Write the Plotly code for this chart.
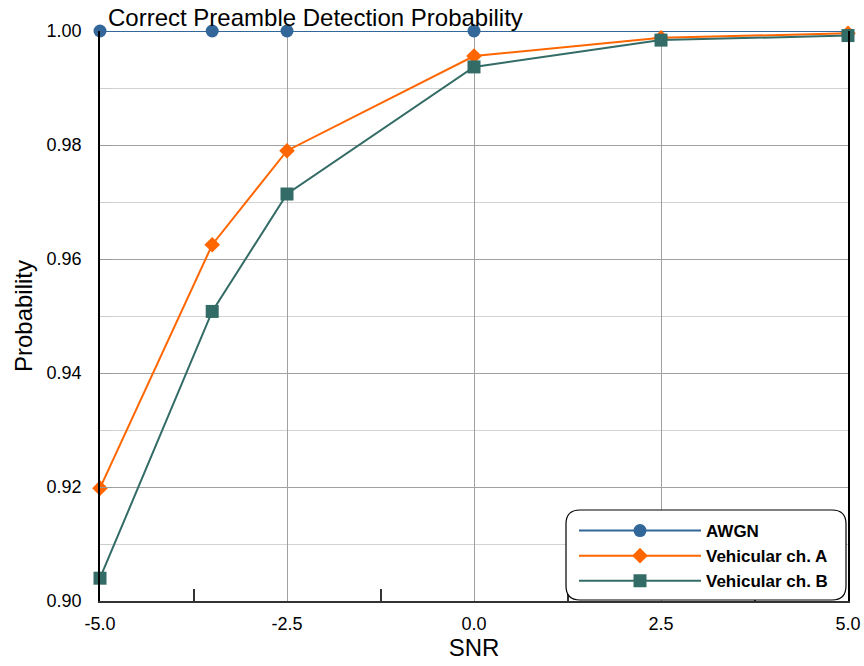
import plotly.graph_objects as go

snr = [-5.0, -3.5, -2.5, 0.0, 2.5, 5.0]
awgn = [1.0, 1.0, 1.0, 1.0, 1.0, 1.0]
veh_a = [0.9198, 0.9625, 0.9790, 0.9956, 0.9988, 0.9996]
veh_b = [0.9040, 0.9508, 0.9714, 0.9937, 0.9984, 0.9992]

x_ticks = [-5.0, -2.5, 0.0, 2.5, 5.0]
x_labels = ["-5.0", "-2.5", "0.0", "2.5", "5.0"]
y_ticks = [0.90, 0.92, 0.94, 0.96, 0.98, 1.00]
y_labels = ["0.90", "0.92", "0.94", "0.96", "0.98", "1.00"]

BLUE = "#336699"
ORANGE = "#FF6600"
GREEN = "#336B66"

W, H = 864, 666
ml, mr, mt, mb = 100, 16, 31, 65
pw, ph = W - ml - mr, H - mt - mb

def px(xp):
    return (xp - ml) / pw

def py(yp):
    return 1 - (yp - mt) / ph

fig = go.Figure()
# AWGN line (all points) and its visible markers (the last two are hidden under ch. B squares)
fig.add_trace(go.Scatter(x=snr, y=awgn, name="AWGN", mode="lines",
                         line=dict(color=BLUE, width=2), showlegend=False, cliponaxis=False))
fig.add_trace(go.Scatter(x=snr[:4], y=awgn[:4], name="AWGN", mode="markers",
                         marker=dict(symbol="circle", size=13, color=BLUE, opacity=1),
                         cliponaxis=False, showlegend=False))
fig.add_trace(go.Scatter(x=[None], y=[None], name="AWGN", mode="lines+markers",
                         line=dict(color=BLUE, width=2),
                         marker=dict(symbol="circle", size=13, color=BLUE)))
fig.add_trace(go.Scatter(x=snr, y=veh_a, name="Vehicular ch. A", mode="lines+markers",
                         line=dict(color=ORANGE, width=2),
                         marker=dict(symbol="diamond", size=12, color=ORANGE),
                         cliponaxis=False))
fig.add_trace(go.Scatter(x=snr, y=veh_b, name="Vehicular ch. B", mode="lines+markers",
                         line=dict(color=GREEN, width=2),
                         marker=dict(symbol="square", size=13, color=GREEN),
                         cliponaxis=False))

x0, x1, y0, y1 = 566, 846, 510, 600
r = 14
pts_path = (f"M {px(x0+r)},{py(y0)} L {px(x1-r)},{py(y0)} Q {px(x1)},{py(y0)} {px(x1)},{py(y0+r)} "
            f"L {px(x1)},{py(y1-r)} Q {px(x1)},{py(y1)} {px(x1-r)},{py(y1)} "
            f"L {px(x0+r)},{py(y1)} Q {px(x0)},{py(y1)} {px(x0)},{py(y1-r)} "
            f"L {px(x0)},{py(y0+r)} Q {px(x0)},{py(y0)} {px(x0+r)},{py(y0)} Z")

fig.add_shape(type="path", path=pts_path, xref="paper", yref="paper",
              line=dict(color="black", width=1.2), fillcolor="white", layer="above")

fig.update_layout(
    width=W, height=H,
    margin=dict(l=ml, r=mr, t=mt, b=mb, autoexpand=False),
    paper_bgcolor="white", plot_bgcolor="white",
    font=dict(family="Liberation Sans, Arial, sans-serif", size=18, color="black"),
    title=dict(text="Correct Preamble Detection Probability", x=108 / W, xanchor="left",
               y=1 - 18 / H, yanchor="middle", font=dict(size=24), automargin=False),
    showlegend=True,
    legend=dict(x=px(574), y=py(513), xanchor="left", yanchor="top",
                bgcolor="rgba(0,0,0,0)", borderwidth=0,
                font=dict(size=17, family="Liberation Sans, Arial, sans-serif", weight="bold"),
                itemwidth=122, tracegroupgap=0),
    xaxis=dict(range=[-5, 5], tickvals=x_ticks, ticktext=x_labels,
               title=dict(text="SNR", font=dict(size=24), standoff=6),
               showgrid=True, gridcolor="#A0A0A0", gridwidth=1,
               showline=True, linecolor="#333333", linewidth=2,
               ticks="", zeroline=False, automargin=False, ticklabelstandoff=5,
               minor=dict(tickvals=[-3.75, -1.25, 1.25, 3.75], ticks="inside", ticklen=12,
                          tickcolor="#333333", tickwidth=1.5, showgrid=False)),
    yaxis=dict(range=[0.9, 1.0], tickvals=y_ticks, ticktext=y_labels,
               title=dict(text="Probability", font=dict(size=24), standoff=7),
               showgrid=True, gridcolor="#A0A0A0", gridwidth=1,
               showline=True, linecolor="black", linewidth=1.5, mirror=True,
               ticks="inside", ticklen=12, tickcolor="#999999", zeroline=False,
               automargin=False, ticklabelstandoff=13,
               minor=dict(dtick=0.01, tick0=0.9, ticks="inside", ticklen=12,
                          tickcolor="#CCCCCC", showgrid=True, gridcolor="#D3D3D3")),
)

fig.write_html("out.html", config={"displayModeBar": False},
               post_script="document.body.style.margin='0';document.body.style.overflow='hidden';")
